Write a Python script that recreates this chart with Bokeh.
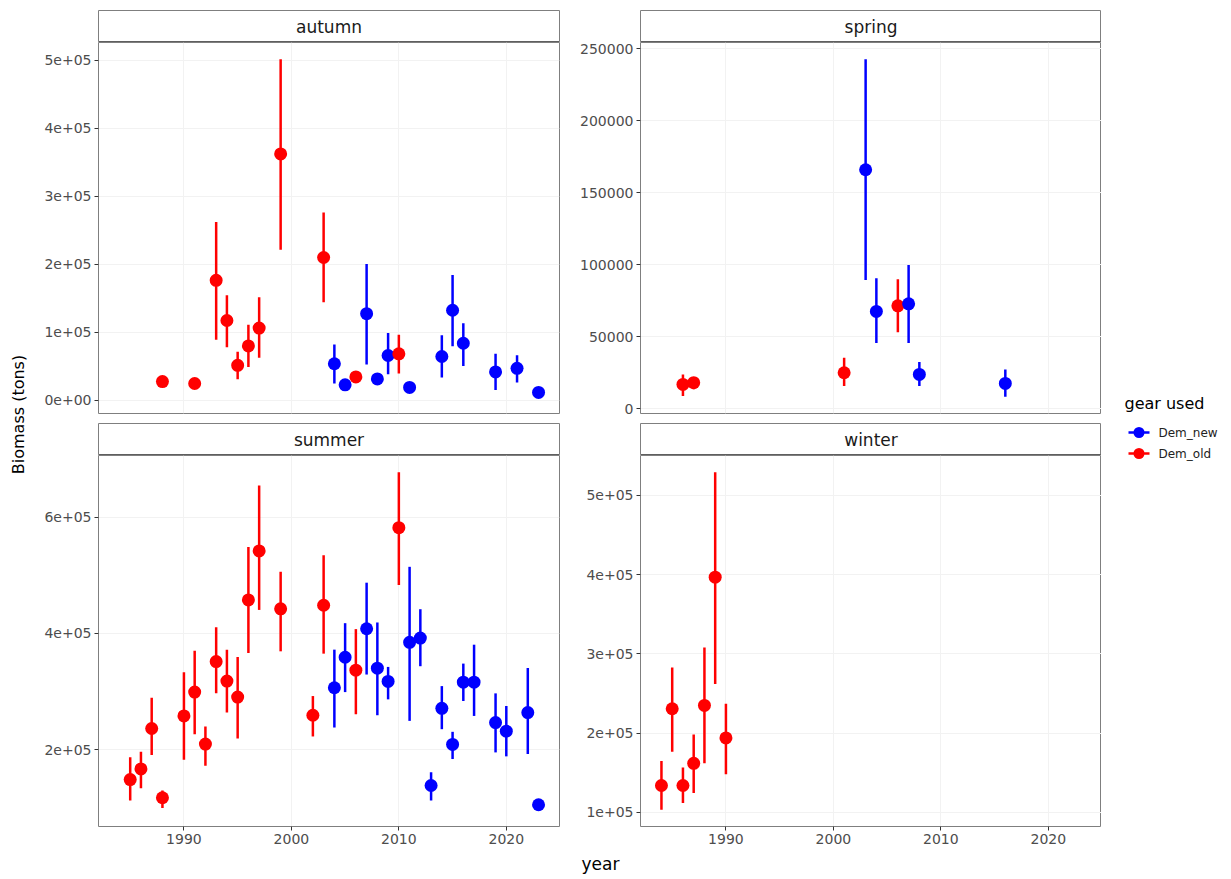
from math import pi
from bokeh.plotting import figure
from bokeh.layouts import row, column
from bokeh.models import Range1d, FixedTicker, ColumnDataSource
from bokeh.transform import factor_cmap
from bokeh.embed import file_html
from bokeh.resources import INLINE
from bokeh.core.properties import value

FONT = "DejaVu Sans"

# ---------------- data ----------------
gear_levels = ["Dem_new", "Dem_old"]
gear_colors = ["#0000FF", "#FF0000"]
x_ticks = [1990, 2000, 2010, 2020]
x_tick_labels = ["1990", "2000", "2010", "2020"]

autumn_year = [1988, 1991, 1993, 1994, 1995, 1996, 1997, 1999, 2003, 2004, 2005, 2006,
               2007, 2008, 2009, 2010, 2011, 2014, 2015, 2016, 2019, 2021, 2023]
autumn_gear = ["Dem_old", "Dem_old", "Dem_old", "Dem_old", "Dem_old", "Dem_old", "Dem_old",
               "Dem_old", "Dem_old", "Dem_new", "Dem_new", "Dem_old", "Dem_new", "Dem_new",
               "Dem_new", "Dem_old", "Dem_new", "Dem_new", "Dem_new", "Dem_new", "Dem_new",
               "Dem_new", "Dem_new"]
autumn_mean = [27200, 24300, 176000, 117000, 51000, 79600, 105800, 362000, 209600, 53400, 22400,
               34000, 127000, 31100, 65500, 68000, 18500, 64000, 132000, 83500, 41300, 46600, 11200]
autumn_lo = [22000, 19000, 88800, 77700, 30600, 48600, 62200, 221000, 143700, 24300, 15000,
             26000, 52400, 24000, 37800, 38900, 12000, 33000, 79000, 50000, 14600, 25800, 5000]
autumn_hi = [33000, 30000, 262000, 154000, 70900, 110600, 151000, 501000, 275700, 81500, 30000,
             42000, 200000, 38000, 98500, 96000, 25000, 95200, 184000, 113000, 68000, 66000, 17000]
autumn_ticks = [0, 100000, 200000, 300000, 400000, 500000]
autumn_tick_labels = ["0e+00", "1e+05", "2e+05", "3e+05", "4e+05", "5e+05"]

spring_year = [1986, 1987, 2001, 2003, 2004, 2006, 2007, 2008, 2016]
spring_gear = ["Dem_old", "Dem_old", "Dem_old", "Dem_new", "Dem_new", "Dem_old", "Dem_new",
               "Dem_new", "Dem_new"]
spring_mean = [16800, 18000, 24900, 165900, 67500, 71400, 72800, 23700, 17500]
spring_lo = [8800, 13400, 15700, 89400, 45600, 53000, 45600, 15700, 8300]
spring_hi = [23700, 21400, 35300, 242600, 90600, 89900, 99800, 32300, 27200]
spring_ticks = [0, 50000, 100000, 150000, 200000, 250000]
spring_tick_labels = ["0", "50000", "100000", "150000", "200000", "250000"]

summer_year = [1985, 1986, 1987, 1988, 1990, 1991, 1992, 1993, 1994, 1995, 1996, 1997, 1999,
               2002, 2003, 2004, 2005, 2006, 2007, 2008, 2009, 2010, 2011, 2012, 2013, 2014,
               2015, 2016, 2017, 2019, 2020, 2022, 2023]
summer_gear = ["Dem_old"] * 15 + ["Dem_new", "Dem_new", "Dem_old", "Dem_new", "Dem_new",
                                  "Dem_new", "Dem_old"] + ["Dem_new"] * 11
summer_mean = [148700, 167000, 236500, 117400, 258100, 299100, 209700, 351600, 318000, 290600,
               457500, 541900, 442200, 259300, 448400, 306600, 359000, 336800, 408000, 340200,
               317400, 581800, 384600, 392000, 138500, 271200, 209100, 316200, 316200, 246700,
               231900, 263800, 105400]
summer_lo = [112800, 133900, 190900, 99700, 182900, 226800, 172600, 296900, 263800, 219400,
             366400, 440400, 369200, 222800, 365200, 238200, 299100, 261000, 329300, 259300,
             286600, 483200, 249600, 343600, 112800, 235300, 184000, 283800, 258100, 195400,
             188600, 192600, 97000]
summer_hi = [186900, 196600, 289500, 130000, 333300, 370400, 239900, 410800, 372100, 359500,
             548700, 654100, 506000, 292300, 534400, 372100, 417600, 407400, 487200, 418800,
             342400, 676900, 514500, 441600, 161300, 309400, 230800, 348100, 380600, 296900,
             275200, 340700, 114000]
summer_ticks = [200000, 400000, 600000]
summer_tick_labels = ["2e+05", "4e+05", "6e+05"]

winter_year = [1984, 1985, 1986, 1987, 1988, 1989, 1990]
winter_gear = ["Dem_old"] * 7
winter_mean = [133800, 230700, 133800, 161800, 234900, 396900, 193900]
winter_lo = [103300, 176400, 111700, 124200, 161800, 262000, 148000]
winter_hi = [164700, 282900, 156400, 198100, 307900, 529200, 236900]
winter_ticks = [100000, 200000, 300000, 400000, 500000]
winter_tick_labels = ["1e+05", "2e+05", "3e+05", "4e+05", "5e+05"]

# ---------------- layout constants ----------------
FRAME_W = 461
FRAME_H = 371
LEFT_COL_LB = 68
LEFT_COL_RB = 2
RIGHT_COL_LB = 79
RIGHT_COL_RB = 0

all_years = autumn_year + spring_year + summer_year + winter_year
xmin, xmax = min(all_years), max(all_years)
xpad = 0.05 * (xmax - xmin)
x_range = Range1d(xmin - xpad, xmax + xpad)

cmap = factor_cmap("gear", gear_colors, gear_levels)


def style_axis(ax):
    ax.axis_line_color = None
    ax.major_tick_line_color = "#333333"
    ax.major_tick_out = 4
    ax.major_tick_in = 0
    ax.minor_tick_line_color = None
    ax.major_label_text_font = FONT
    ax.major_label_text_font_size = "14px"
    ax.major_label_text_color = "#4d4d4d"
    ax.major_label_standoff = 3


def make_strip(label, lb, rb, top):
    s = figure(width=lb + FRAME_W + rb, height=top + 32, x_range=Range1d(0, 1),
               y_range=Range1d(0, 1), x_axis_location=None, y_axis_location=None,
               min_border_left=lb, min_border_right=rb, min_border_top=top,
               min_border_bottom=0, output_backend="svg", toolbar_location=None)
    s.grid.visible = False
    s.outline_line_color = "#7f7f7f"
    s.outline_line_width = 1
    s.segment(x0=[0], y0=[0], x1=[1], y1=[0], line_width=2.5, line_color="#555555")
    s.text(x=[0.5], y=[0.5], text=[label], text_align="center", text_baseline="middle",
           text_font=value(FONT), text_font_size="17px", text_color="#1a1a1a")
    return s


def make_panel(years, gears, mean, lo, hi, ticks, tick_labels, lb, rb, bottom_row):
    ymin, ymax = min(lo), max(hi)
    ypad = 0.05 * (ymax - ymin)
    bb = 28 if bottom_row else 10
    p = figure(width=lb + FRAME_W + rb, height=FRAME_H + bb, x_range=x_range,
               y_range=Range1d(ymin - ypad, ymax + ypad),
               min_border_left=lb, min_border_right=rb, min_border_top=0,
               min_border_bottom=bb, output_backend="svg", toolbar_location=None)
    p.outline_line_color = "#7f7f7f"
    p.outline_line_width = 1
    p.background_fill_color = "white"
    p.xaxis.ticker = FixedTicker(ticks=x_ticks)
    p.xaxis.major_label_overrides = {t: l for t, l in zip(x_ticks, x_tick_labels)}
    p.yaxis.ticker = FixedTicker(ticks=ticks)
    p.yaxis.major_label_overrides = {t: l for t, l in zip(ticks, tick_labels)}
    style_axis(p.xaxis[0])
    style_axis(p.yaxis[0])
    if not bottom_row:
        p.xaxis.visible = False
    p.xgrid.ticker = FixedTicker(ticks=x_ticks)
    p.ygrid.ticker = FixedTicker(ticks=ticks)
    p.grid.grid_line_color = "#f2f2f2"
    p.grid.grid_line_width = 1
    src = ColumnDataSource(dict(year=years, gear=gears, mean=mean, lo=lo, hi=hi))
    p.segment(x0="year", y0="lo", x1="year", y1="hi", source=src, line_width=2.5,
              line_color=cmap)
    p.scatter(x="year", y="mean", source=src, size=13, fill_color=cmap, line_color=None)
    return p


strip_a = make_strip("autumn", LEFT_COL_LB, LEFT_COL_RB, 10)
panel_a = make_panel(autumn_year, autumn_gear, autumn_mean, autumn_lo, autumn_hi,
                     autumn_ticks, autumn_tick_labels, LEFT_COL_LB, LEFT_COL_RB, False)
strip_su = make_strip("summer", LEFT_COL_LB, LEFT_COL_RB, 0)
panel_su = make_panel(summer_year, summer_gear, summer_mean, summer_lo, summer_hi,
                      summer_ticks, summer_tick_labels, LEFT_COL_LB, LEFT_COL_RB, True)
strip_sp = make_strip("spring", RIGHT_COL_LB, RIGHT_COL_RB, 10)
panel_sp = make_panel(spring_year, spring_gear, spring_mean, spring_lo, spring_hi,
                      spring_ticks, spring_tick_labels, RIGHT_COL_LB, RIGHT_COL_RB, False)
strip_w = make_strip("winter", RIGHT_COL_LB, RIGHT_COL_RB, 0)
panel_w = make_panel(winter_year, winter_gear, winter_mean, winter_lo, winter_hi,
                     winter_ticks, winter_tick_labels, RIGHT_COL_LB, RIGHT_COL_RB, True)

left_col = column(strip_a, panel_a, strip_su, panel_su)
right_col = column(strip_sp, panel_sp, strip_w, panel_w)

center_w = (LEFT_COL_LB + FRAME_W + LEFT_COL_RB) + (RIGHT_COL_LB + FRAME_W + RIGHT_COL_RB)
xlab = figure(width=center_w, height=25, x_range=Range1d(0, center_w), y_range=Range1d(25, 0),
              x_axis_location=None, y_axis_location=None, min_border=0,
              output_backend="svg", toolbar_location=None)
xlab.grid.visible = False
xlab.outline_line_color = None
xlab.text(x=[570], y=[9], text=["year"], text_align="center", text_baseline="middle",
          text_font=value(FONT), text_font_size="17px", text_color="#000000")

ylab = figure(width=30, height=879, x_range=Range1d(0, 30), y_range=Range1d(879, 0),
              x_axis_location=None, y_axis_location=None, min_border=0,
              output_backend="svg", toolbar_location=None)
ylab.grid.visible = False
ylab.outline_line_color = None
ylab.text(x=[18], y=[414], text=["Biomass (tons)"], angle=pi / 2, text_align="center",
          text_baseline="middle", text_font=value(FONT), text_font_size="16px",
          text_color="#000000")

leg_w = 1231 - 30 - center_w
leg = figure(width=leg_w, height=879, x_range=Range1d(0, leg_w), y_range=Range1d(879, 0),
             x_axis_location=None, y_axis_location=None, min_border=0,
             output_backend="svg", toolbar_location=None)
leg.grid.visible = False
leg.outline_line_color = None
leg.text(x=[23], y=[403], text=["gear used"], text_align="left", text_baseline="middle",
         text_font=value(FONT), text_font_size="16px", text_color="#000000")
for i, (g, c) in enumerate(zip(gear_levels, gear_colors)):
    yk = 432 + i * 21
    leg.segment(x0=[27], y0=[yk], x1=[48], y1=[yk], line_width=2.5, line_color=c)
    leg.scatter(x=[37.5], y=[yk], size=11, fill_color=c, line_color=None)
    leg.text(x=[57], y=[yk], text=[g], text_align="left", text_baseline="middle",
             text_font=value(FONT), text_font_size="12px", text_color="#222222")

layout = row(ylab, column(row(left_col, right_col), xlab), leg)

open("out.html", "w").write(file_html(layout, INLINE))
